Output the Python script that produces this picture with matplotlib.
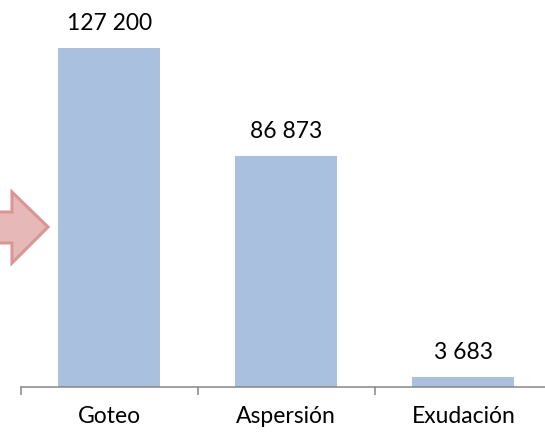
import matplotlib
matplotlib.use("Agg")
import matplotlib.pyplot as plt
from matplotlib.patches import Polygon

# Data
categories = ["Goteo", "Aspersión", "Exudación"]
values = [127200, 86873, 3683]
value_labels = ["127 200", "86 873", "3 683"]

plt.rcParams['font.family'] = ['Lato', 'DejaVu Sans']

W, H = 545, 435
fig = plt.figure(figsize=(W / 100, H / 100), dpi=100)

# plot area in pixels (axis line at y=388, ticks every 177 px starting at x=20.7)
left, right, bottom, top = 20.7, 552.0, 388.0, 15.0
ax = fig.add_axes([left / W, (H - bottom) / H, (right - left) / W, (bottom - top) / H])

x = list(range(len(categories)))
ax.bar(x, values, width=0.576, color="#A9C1DF", zorder=2)
ax.set_xlim(-0.5, 2.5)
ax.set_ylim(0, 140000)

for xi, v, lab in zip(x, values, value_labels):
    ax.annotate(lab, (xi, v), xytext=(0, 13.5), textcoords="offset points",
                ha="center", va="baseline", fontsize=16.5, color="black")

# category boundaries as ticks, labels on minor ticks
ax.set_xticks([-0.5, 0.5, 1.5, 2.5])
ax.set_xticklabels([])
ax.set_xticks(x, minor=True)
ax.set_xticklabels(categories, minor=True, fontsize=16.5)
ax.tick_params(axis="x", which="major", length=5.5, width=1.1, color="#868686", direction="out")
ax.tick_params(axis="x", which="minor", length=0, pad=13)
ax.set_yticks([])

for s in ["top", "right", "left"]:
    ax.spines[s].set_visible(False)
ax.spines["bottom"].set_color("#868686")
ax.spines["bottom"].set_linewidth(1.1)

# pink block arrow on the left edge
arrow_pts = [(-10, 213), (12, 213), (12, 193), (48, 228), (12, 264), (12, 244), (-10, 244)]
arrow = Polygon([(px, H - py) for px, py in arrow_pts], closed=True,
                facecolor="#E6B9B8", edgecolor="#D99694", linewidth=2.2,
                transform=None, zorder=3)
fig.patches.append(arrow)

fig.savefig("out.png", dpi=100)
